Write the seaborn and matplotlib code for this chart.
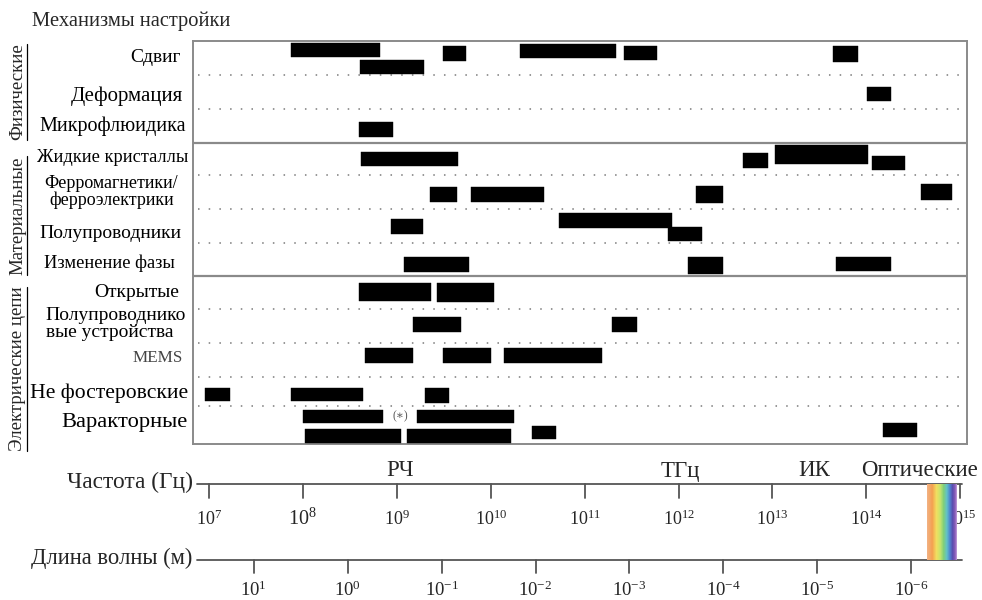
import numpy as np
import pandas as pd
import matplotlib
matplotlib.use("Agg")
import matplotlib.pyplot as plt
from matplotlib.colors import LinearSegmentedColormap
from matplotlib.transforms import blended_transform_factory
from matplotlib.lines import Line2D
import seaborn as sns

sns.set_theme(style="white")
plt.rcParams["font.family"] = ["Liberation Serif", "DejaVu Serif"]
plt.rcParams["mathtext.fontset"] = "custom"
plt.rcParams["mathtext.rm"] = "Liberation Serif"
plt.rcParams["mathtext.it"] = "Liberation Serif:italic"

# ---------------------------------------------------------------- data
groups = ["Физические", "Материальные", "Электрические цепи"]
mechanisms = ["Сдвиг", "Деформация", "Микрофлюидика",
              "Жидкие кристаллы", "Ферромагнетики/\nферроэлектрики",
              "Полупроводники", "Изменение фазы",
              "Открытые", "Полупроводнико\nвые устройства", "MEMS",
              "Не фостеровские", "Варакторные"]
mechanism_group = [0, 0, 0, 1, 1, 1, 1, 2, 2, 2, 2, 2]

# frequency span of each reported tunable device, Hz
bar_row = [0, 0, 0, 0, 0, 0,
           1,
           2,
           3, 3, 3, 3,
           4, 4, 4, 4,
           5, 5, 5,
           6, 6, 6,
           7, 7,
           8, 8,
           9, 9, 9,
           10, 10, 10,
           11, 11, 11, 11, 11, 11]
bar_f_lo = [7.5e7, 4.1e8, 3.1e9, 2.05e10, 2.6e11, 4.4e13,
            1.02e14,
            4.0e8,
            4.2e8, 4.9e12, 1.07e13, 1.15e14,
            2.26e9, 6.2e9, 1.54e12, 3.8e14,
            8.7e8, 5.3e10, 7.7e11,
            1.2e9, 1.26e12, 4.75e13,
            4.0e8, 2.7e9,
            1.5e9, 1.96e11,
            4.6e8, 3.1e9, 1.4e10,
            9.1e6, 7.5e7, 2.0e9,
            1.0e8, 1.64e9, 1.05e8, 1.28e9, 2.75e10, 1.5e14]
bar_f_hi = [6.6e8, 1.95e9, 5.5e9, 2.16e11, 5.9e11, 8.2e13,
            1.83e14,
            9.1e8,
            4.5e9, 9.0e12, 1.04e14, 2.6e14,
            4.4e9, 3.7e10, 3.0e12, 8.2e14,
            1.9e9, 8.5e11, 1.78e12,
            5.9e9, 3.0e12, 1.83e14,
            2.3e9, 1.08e10,
            4.8e9, 3.6e11,
            1.49e9, 1.0e10, 1.53e11,
            1.67e7, 4.4e8, 3.6e9,
            7.1e8, 1.77e10, 1.11e9, 1.64e10, 4.96e10, 3.5e14]

# spectrum scales
freq_ticks = [1e7, 1e8, 1e9, 1e10, 1e11, 1e12, 1e13, 1e14, 1e15]
wavelength_ticks = [1e1, 1e0, 1e-1, 1e-2, 1e-3, 1e-4, 1e-5, 1e-6]
band_names = ["РЧ", "ТГц", "ИК", "Оптические"]
band_centers = [1.08e9, 1.04e12, 2.8e13, 3.7e14]
optical_band = (4.4e14, 9.2e14)
C_LIGHT = 3e8

# ---------------------------------------------------------------- layout
W, H = 982, 600
row_px = [34, 34, 34, 32, 34, 34, 33, 33, 34, 34, 29, 38]
row_top = np.concatenate([[0], np.cumsum(row_px)[:-1]])
# bar centre offset inside its row and bar thickness (px)
bar_dy = [9, 26, 12.5, 10, 12, 13,
          19,
          20.5,
          16, 17.5, 11.5, 20,
          19.5, 19.5, 19.5, 17,
          17.5, 11.5, 25,
          21.5, 22.5, 21,
          16, 16.5,
          15.5, 15.5,
          12.5, 12.5, 12.5,
          17.5, 17.5, 18.5,
          10.5, 10.5, 30, 30, 26.5, 24]
bar_h = [14, 14, 15, 14, 14, 16,
         14,
         15,
         14, 15, 19, 14,
         15, 15, 17, 16,
         15, 15, 14,
         15, 17, 14,
         18, 19,
         15, 15,
         15, 15, 15,
         13, 13, 15,
         13, 13, 14, 14, 13, 14]
label_dy = [0, 4, 0, -2, 0, 7, 3.5, 0, -2, -2, 1.5, -2]
label_right = [181, 183, 186, 188, 178, 181, 175, 179, 186, 183, 188, 188]
label_align = ["right"] * 4 + ["center"] + ["right"] * 3 + ["left"] + ["right"] * 3
label_size = [14, 15, 14.5, 13.2, 13, 14, 13.2, 14, 14, 12.3, 15.6, 16.2]
group_dy = [0, 6, 9]

bars = pd.DataFrame({"row": bar_row, "f_lo": bar_f_lo, "f_hi": bar_f_hi,
                     "dy": bar_dy, "h": bar_h})
bars["y"] = row_top[bars["row"]] + bars["dy"]

px_per_decade = 93.9
f_at_px = lambda x: 10 ** (7 + (x - 209) / px_per_decade)
xlim = (f_at_px(193), f_at_px(967))

fig = plt.figure(figsize=(W / 100, H / 100), dpi=100)
fig.patch.set_facecolor("white")

# ---------------------------------------------------------------- main panel
ax = fig.add_axes([193 / W, 1 - 444 / H, 774 / W, 403 / H])
ax.set_xscale("log")
ax.set_xlim(*xlim)
ax.set_ylim(sum(row_px), 0)
ax.set_xticks([]); ax.set_yticks([])
ax.minorticks_off()
for sp in ax.spines.values():
    sp.set_color("#8a8a8a")
    sp.set_linewidth(1.4)
ax.grid(False)

ax.barh(bars["y"], bars["f_hi"] - bars["f_lo"], left=bars["f_lo"],
        height=bars["h"], color="black", edgecolor="black", linewidth=0.3,
        zorder=3)

bounds = np.cumsum(row_px)[:-1]
for i, b in enumerate(bounds):
    if mechanism_group[i] != mechanism_group[i + 1]:
        ax.axhline(b, color="#8a8a8a", lw=1.6, zorder=2)
    else:
        ax.plot([f_at_px(198), f_at_px(962)], [b, b], color="#7a7a7a",
                lw=1.1, ls=(0, (1, 6)), zorder=1)

ax.text(f_at_px(400), row_top[11] + 10.5, "(∗)", ha="center", va="center",
        fontsize=8.5, color="#555555", zorder=4)

tr = blended_transform_factory(ax.transAxes, ax.transData)
for i, name in enumerate(mechanisms):
    yc = row_top[i] + row_px[i] / 2 + label_dy[i]
    ax.text((label_right[i] - 193) / 774, yc, name, transform=tr, ha="right",
            va="center", multialignment=label_align[i],
            fontsize=label_size[i], linespacing=0.95,
            color="#444444" if name == "MEMS" else "black", clip_on=False)

fig.text(32 / W, 1 - 21 / H, "Механизмы настройки", ha="left", va="center",
         fontsize=14.8)

group_text = []
for g, name in enumerate(groups):
    rows = [i for i, m in enumerate(mechanism_group) if m == g]
    y0 = 41 + row_top[rows[0]]
    y1 = 41 + row_top[rows[-1]] + row_px[rows[-1]]
    t = fig.text(18 / W, 1 - ((y0 + y1) / 2 + group_dy[g]) / H, name,
                 rotation=90, ha="center", va="center", fontsize=13.6)
    group_text.append(t)

# ---------------------------------------------------------------- spectrum axes
bx = fig.add_axes([193 / W, 0, 774 / W, 1 - 444 / H])
bx.set_xscale("log")
bx.set_xlim(*xlim)
bx.set_ylim(H, 444)
bx.axis("off")

line_x = [f_at_px(197), f_at_px(962)]
sns.lineplot(x=line_x, y=[484, 484], ax=bx, color="#555555", lw=1.3)
sns.lineplot(x=line_x, y=[560, 560], ax=bx, color="#555555", lw=1.3)

cmap = LinearSegmentedColormap.from_list(
    "visible", ["#f2b080", "#f5a050", "#f2de60", "#c8e46c", "#7fcf7a",
                "#62c2c8", "#4f86cf", "#5a4fb0", "#8a5cb8", "#d6b6e6"])
bx.imshow(np.linspace(0, 1, 256)[None, :], cmap=cmap, aspect="auto",
          extent=[optical_band[0], optical_band[1], 560, 484], zorder=5,
          interpolation="bilinear")
bx.set_xlim(*xlim); bx.set_ylim(H, 444)

for f in freq_ticks:
    bx.plot([f, f], [484, 498], color="#555555", lw=1.3)
    e = int(round(np.log10(f)))
    bx.text(f, 519, r"$10^{%d}$" % e, ha="center", va="center",
            fontsize=14.5 if e == 8 else 13, zorder=4)
for lam in wavelength_ticks:
    f = C_LIGHT / lam
    bx.plot([f, f], [560, 573], color="#555555", lw=1.3)
    e = int(round(np.log10(lam)))
    bx.text(f, 590, r"$10^{%d}$" % e, ha="center", va="center", fontsize=13.5)

for name, fc in zip(band_names, band_centers):
    bx.text(fc, 471, name, ha="center", va="center", fontsize=16.5)

fig.text(193 / W, 1 - 482 / H, "Частота (Гц)", ha="right", va="center",
         fontsize=16.8)
fig.text(192 / W, 1 - 558 / H, "Длина волны (м)", ha="right", va="center",
         fontsize=16.3)

# underline the rotated group titles
fig.canvas.draw()
for t in group_text:
    bb = t.get_window_extent()
    fig.add_artist(Line2D([27 / W, 27 / W], [bb.y0 / H, bb.y1 / H],
                          transform=fig.transFigure, color="black", lw=0.9))

fig.savefig("out.png", dpi=100, facecolor="white")
